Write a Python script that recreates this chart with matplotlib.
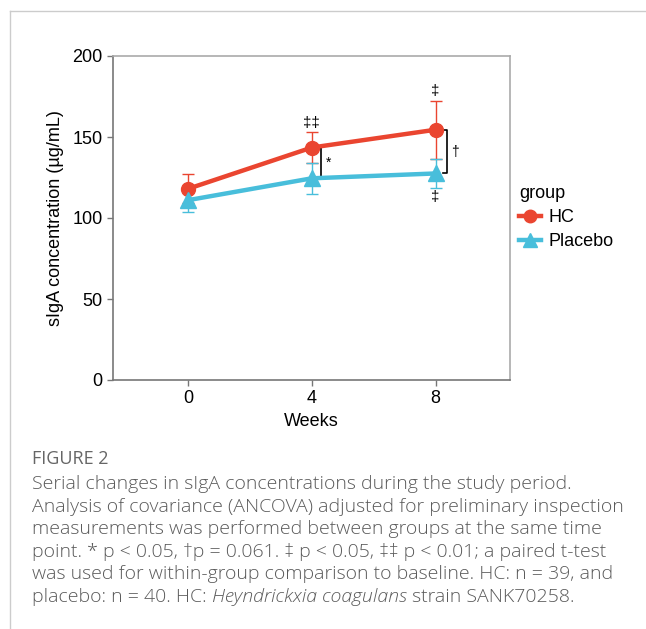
import matplotlib.pyplot as plt
from matplotlib.lines import Line2D

# data
weeks = [0, 4, 8]
hc_mean = [118, 143.5, 154.5]
hc_sd = [9, 9.5, 18]
pl_mean = [111, 124.5, 127.5]
pl_sd = [7.5, 9.5, 9]
groups = ["HC", "Placebo"]

red = "#EA4530"
blue = "#48BEDB"

plt.rcParams['font.family'] = ['Liberation Sans', 'DejaVu Sans']

fig = plt.figure(figsize=(6.46, 6.29), dpi=100)
ax = fig.add_axes([113/646, 1-380/629, 397/646, 324/629])

ax.errorbar(weeks, hc_mean, yerr=hc_sd, color=red, lw=3.2, marker="o", ms=10,
            elinewidth=1.0, capsize=4, capthick=1.0, label=groups[0], zorder=3)
ax.errorbar(weeks, pl_mean, yerr=pl_sd, color=blue, lw=3.2, marker="^", ms=12,
            elinewidth=1.0, capsize=4, capthick=1.0, label=groups[1], zorder=3)

ax.set_xlim(-2.42, 10.4)
ax.set_ylim(0, 200)
ax.set_xticks(weeks)
ax.set_yticks([0, 50, 100, 150, 200])
ax.tick_params(labelsize=13, length=4, color="#777777", width=1)
for s in ["left", "bottom"]:
    ax.spines[s].set_color("#777777")
    ax.spines[s].set_linewidth(1.2)
for s in ["top", "right"]:
    ax.spines[s].set_color("#aaaaaa")
    ax.spines[s].set_linewidth(1.2)
ax.set_xlabel("Weeks", fontsize=13, labelpad=4)
ax.set_ylabel("sIgA concentration (\u00b5g/mL)", fontsize=13, labelpad=6)

# significance brackets between groups
def bracket(x, y1, y2, txt):
    ax.plot([x - 0.12, x, x, x - 0.12], [y1, y1, y2, y2], color="black", lw=1.2,
            clip_on=False)
    ax.text(x + 0.15, (y1 + y2) / 2, txt, fontsize=10, ha="left", va="center")

bracket(4.3, hc_mean[1], pl_mean[1], "*")
bracket(8.35, hc_mean[2], pl_mean[2], "\u2020")

# within-group markers
ax.text(4, hc_mean[1] + hc_sd[1] + 1.5, "\u2021\u2021", fontsize=11, ha="center", va="bottom")
ax.text(8, hc_mean[2] + hc_sd[2] + 1.5, "\u2021", fontsize=11, ha="center", va="bottom")
ax.text(8, pl_mean[2] - pl_sd[2] - 1.5, "\u2021", fontsize=11, ha="center", va="top")

handles = [Line2D([], [], color=red, lw=3.2, marker="o", ms=9),
           Line2D([], [], color=blue, lw=3.2, marker="^", ms=10)]
leg = ax.legend(handles, groups, title="group", loc="upper left",
                bbox_to_anchor=(1.005, 0.625), frameon=False, fontsize=13,
                title_fontsize=13, handlelength=1.2, handletextpad=0.4,
                labelspacing=0.4, borderaxespad=0)
leg._legend_box.align = "left"

# page frame lines
fig.add_artist(Line2D([10/646, 10/646], [0, 1-11/629], color="#cccccc", lw=1))
fig.add_artist(Line2D([10/646, 1], [1-11/629, 1-11/629], color="#cccccc", lw=1))

cap_font = ['Open Sans', 'DejaVu Sans']
cap_size = 14
fig.text(32/646, 1-459/629, "FIGURE 2", fontsize=13, color="#666666",
         family=cap_font, va="center")
caption = [
    "Serial changes in sIgA concentrations during the study period.",
    "Analysis of covariance (ANCOVA) adjusted for preliminary inspection",
    "measurements was performed between groups at the same time",
    "point. * p < 0.05, \u2020p = 0.061. \u2021 p < 0.05, \u2021\u2021 p < 0.01; a paired t-test",
    "was used for within-group comparison to baseline. HC: n = 39, and",
]
for i, line in enumerate(caption):
    fig.text(32/646, 1-(484 + i*22.6)/629, line, fontsize=cap_size, color="#5a5a5a",
             family=cap_font, va="center", fontweight="light")
y_last = 1-(484 + 5*22.6)/629
t = fig.text(32/646, y_last, "placebo: n = 40. HC: ", fontsize=cap_size, color="#5a5a5a",
             family=cap_font, va="center", fontweight="light")
fig.canvas.draw()
bb = t.get_window_extent()
t2 = fig.text(bb.x1/fig.bbox.width, y_last, "Heyndrickxia coagulans", fontsize=cap_size,
              color="#5a5a5a", family=cap_font, va="center", style="italic",
              fontweight="light")
fig.canvas.draw()
bb2 = t2.get_window_extent()
fig.text(bb2.x1/fig.bbox.width, y_last, " strain SANK70258.", fontsize=cap_size,
         color="#5a5a5a", family=cap_font, va="center", fontweight="light")

fig.savefig("out.png", dpi=100)
